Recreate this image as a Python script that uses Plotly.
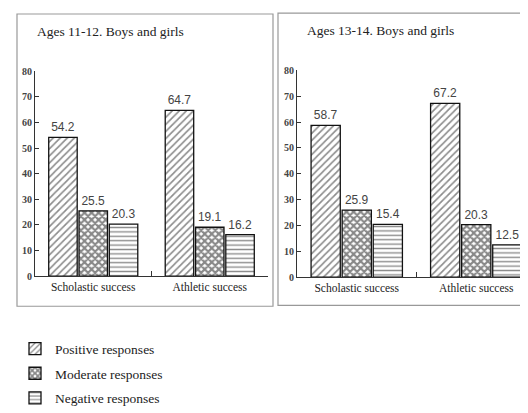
import plotly.graph_objects as go

W, H = 528, 413
OFF = 8  # page body margin offset of the figure in the browser window

categories = ["Scholastic success", "Athletic success"]
series_names = ["Positive responses", "Moderate responses", "Negative responses"]

# Ages 11-12
pos_11_12 = [54.2, 64.7]
mod_11_12 = [25.5, 19.1]
neg_11_12 = [20.3, 16.2]

# Ages 13-14 (the scholastic negative bar is drawn at ~20.4 in the source while labelled 15.4)
pos_13_14 = [58.7, 67.2]
mod_13_14 = [25.9, 20.3]
neg_13_14 = [20.4, 12.5]
neg_13_14_labels = ["15.4", "12.5"]

y_ticks = [0, 10, 20, 30, 40, 50, 60, 70, 80]
panel_titles = ["Ages 11-12. Boys and girls", "Ages 13-14. Boys and girls"]

patterns = [
    dict(shape="/", size=5, solidity=0.33, fgcolor="#1a1a1a", bgcolor="white"),
    dict(shape="x", size=5, solidity=0.68, fgcolor="#111", bgcolor="white"),
    dict(shape="-", size=4.4, solidity=0.32, fgcolor="#1a1a1a", bgcolor="white"),
]

SERIF = "Liberation Serif"
SANS = "Liberation Sans"

fig = go.Figure()

panels = [
    ("x", "y", [pos_11_12, mod_11_12, neg_11_12],
     [[f"{v:.1f}" for v in pos_11_12], [f"{v:.1f}" for v in mod_11_12], [f"{v:.1f}" for v in neg_11_12]], True),
    ("x2", "y2", [pos_13_14, mod_13_14, neg_13_14],
     [[f"{v:.1f}" for v in pos_13_14], [f"{v:.1f}" for v in mod_13_14], neg_13_14_labels], False),
]

for xa, ya, vals, labels, show in panels:
    for i, name in enumerate(series_names):
        fig.add_trace(go.Bar(
            x=categories, y=vals[i], name=name, xaxis=xa, yaxis=ya,
            text=labels[i], textposition="outside",
            textfont=dict(family=SANS, size=12, color="#444"),
            cliponaxis=False,
            marker=dict(color="white", line=dict(color="#111", width=1.3), pattern=patterns[i]),
            showlegend=show, legendgroup=name, hoverinfo="skip",
        ))

def px_x(p):
    return (p - OFF) / W

def px_y(p):
    return 1 - (p - OFF) / H

yaxis_common = dict(
    range=[0, 80], tickvals=y_ticks, ticks="inside", ticklen=4, tickwidth=1.2,
    tickcolor="#333", showline=True, linecolor="#333", linewidth=1.2,
    showgrid=False, zeroline=False,
    tickfont=dict(family=SERIF, size=10, color="#444", weight="bold"), fixedrange=True,
)
xaxis_common = dict(
    type="category", showline=True, linecolor="#333", linewidth=1.2,
    ticks="inside", tickson="boundaries", ticklen=5, tickwidth=1.2, tickcolor="#333",
    showgrid=False, zeroline=False,
    tickfont=dict(family=SERIF, size=11.5, color="#222"), fixedrange=True,
)

fig.update_layout(
    width=W, height=H, margin=dict(l=0, r=0, t=0, b=0),
    paper_bgcolor="white", plot_bgcolor="white",
    barmode="group", bargap=0.22, bargroupgap=0.06,
    xaxis=dict(domain=[px_x(35), px_x(268)], anchor="y", **xaxis_common),
    yaxis=dict(domain=[px_y(278), px_y(67)], anchor="x", **yaxis_common),
    xaxis2=dict(domain=[px_x(297), 1.0], anchor="y2", **xaxis_common),
    yaxis2=dict(domain=[px_y(279), px_y(66)], anchor="x2", **yaxis_common),
    legend=dict(x=px_x(15), y=px_y(337), xanchor="left", yanchor="top",
                font=dict(family=SERIF, size=13.5, color="#222"),
                bgcolor="rgba(0,0,0,0)", tracegroupgap=4),
    shapes=[
        dict(type="rect", xref="paper", yref="paper",
             x0=px_x(17), x1=px_x(273), y0=px_y(309), y1=px_y(8),
             line=dict(color="#999", width=1.2), layer="below"),
        dict(type="rect", xref="paper", yref="paper",
             x0=px_x(278), x1=px_x(545), y0=px_y(308), y1=px_y(7),
             line=dict(color="#999", width=1.2), layer="below"),
    ],
    annotations=[
        dict(text=panel_titles[0], xref="paper", yref="paper", x=px_x(35), y=px_y(26),
             xanchor="left", yanchor="middle", showarrow=False,
             font=dict(family=SERIF, size=13.5, color="#222")),
        dict(text=panel_titles[1], xref="paper", yref="paper", x=px_x(305), y=px_y(25),
             xanchor="left", yanchor="middle", showarrow=False,
             font=dict(family=SERIF, size=13.5, color="#222")),
    ],
)

fig.write_html("out.html")
